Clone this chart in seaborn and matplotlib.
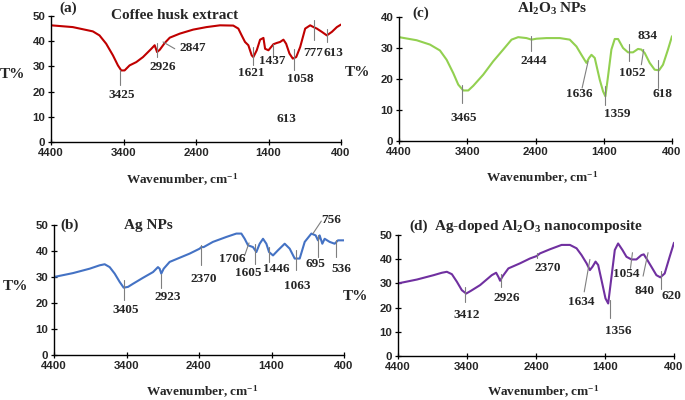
import matplotlib
matplotlib.use("Agg")
import matplotlib.pyplot as plt
import seaborn as sns
import pandas as pd

# ---------------- data (wavenumber cm-1, T%) ----------------
a_wn = [4400, 4100, 3823, 3731, 3639, 3546, 3477, 3431, 3385, 3316, 3224, 3131, 3016, 2970,
        2937, 2900, 2854, 2831, 2762, 2624, 2439, 2255, 2070, 1886, 1816, 1770, 1724, 1678,
        1632, 1609, 1562, 1516, 1470, 1447, 1401, 1355, 1332, 1286, 1240, 1194, 1157, 1111,
        1065, 1018, 963, 894, 825, 779, 733, 664, 595, 526, 457, 400]
a_t = [46.3, 45.6, 43.9, 42.3, 39.0, 34.4, 30.4, 28.4, 28.4, 30.4, 31.7, 33.7, 37.0, 38.4,
       35.7, 36.6, 38.4, 39.3, 41.4, 43.0, 44.6, 45.6, 46.3, 46.2, 45.0, 42.3, 39.7, 38.4,
       34.4, 33.7, 36.4, 40.6, 41.3, 37.0, 36.4, 38.0, 38.8, 39.3, 39.7, 40.6, 39.0, 35.1,
       33.1, 33.7, 37.7, 45.0, 46.3, 45.6, 45.0, 43.7, 42.3, 43.7, 45.6, 46.6]

b_wn = [4400, 4138, 3908, 3770, 3701, 3632, 3563, 3494, 3439, 3379, 3310, 3172, 3034, 2966,
        2943, 2920, 2887, 2805, 2667, 2529, 2391, 2368, 2336, 2208, 2023, 1885, 1816, 1770,
        1724, 1655, 1609, 1563, 1517, 1471, 1434, 1379, 1310, 1218, 1149, 1080, 1011, 942,
        850, 791, 759, 736, 699, 667, 598, 529, 483, 400]
b_t = [30.0, 31.5, 33.2, 34.5, 34.9, 33.8, 31.3, 28.1, 25.9, 26.2, 27.4, 29.7, 31.9, 33.8,
       33.2, 31.3, 33.2, 35.8, 37.4, 39.0, 40.9, 41.5, 41.5, 43.5, 45.4, 46.7, 46.7, 44.7,
       42.2, 41.5, 39.6, 42.8, 44.7, 42.8, 39.6, 38.3, 40.3, 42.8, 40.9, 37.1, 37.1, 43.5,
       46.7, 46.0, 44.1, 46.0, 42.8, 44.7, 43.5, 42.8, 44.1, 44.1]

c_wn = [4400, 4141, 3946, 3800, 3702, 3605, 3532, 3459, 3385, 3312, 3166, 3020, 2873, 2751,
        2654, 2532, 2459, 2385, 2239, 2044, 1898, 1800, 1727, 1654, 1615, 1580, 1532, 1459,
        1410, 1376, 1337, 1288, 1239, 1190, 1117, 1044, 971, 898, 849, 800, 727, 654, 590,
        532, 459, 400]
c_t = [33.5, 32.5, 31.1, 29.2, 26.2, 21.9, 18.2, 16.3, 16.3, 17.8, 21.4, 25.7, 29.5, 32.7,
       33.5, 33.2, 32.7, 33.0, 33.2, 33.2, 32.7, 30.5, 27.8, 25.2, 26.8, 27.8, 26.8, 19.8,
       16.0, 14.4, 20.9, 29.5, 32.9, 32.9, 30.0, 28.6, 28.6, 29.7, 29.5, 28.4, 25.2, 23.0,
       22.8, 24.6, 29.5, 33.8]

d_wn = [4400, 4125, 3884, 3764, 3692, 3619, 3547, 3475, 3412, 3345, 3210, 3041, 2978, 2945,
        2920, 2882, 2800, 2631, 2487, 2390, 2342, 2198, 2029, 1908, 1812, 1740, 1667, 1619,
        1581, 1537, 1499, 1451, 1393, 1354, 1306, 1258, 1210, 1147, 1089, 1017, 945, 872,
        838, 800, 728, 655, 598, 535, 463, 400]
d_t = [30.0, 31.6, 33.4, 34.4, 34.8, 33.8, 30.7, 27.2, 25.8, 26.9, 29.3, 33.4, 34.4, 32.7,
       31.1, 33.0, 36.2, 38.3, 40.3, 41.3, 42.4, 44.1, 45.9, 45.9, 44.5, 41.7, 38.3, 35.5,
       36.9, 39.0, 37.6, 31.4, 23.8, 21.7, 32.7, 43.8, 46.5, 43.8, 41.0, 39.9, 39.9, 41.7,
       42.0, 40.3, 36.9, 33.4, 32.5, 34.1, 41.0, 46.8]

x_ticks = [4400, 3400, 2400, 1400, 400]

# peak labels: (text, line x0, y0, x1, y1, text x, text y)
a_peaks = [("3425", 3445, 28.4, 3445, 22.5, 3431, 18.8),
           ("2926", 2937, 39.3, 2937, 33.7, 2855, 29.8),
           ("2847", 2855, 39.7, 2693, 37.0, 2439, 37.3),
           ("1621", 1609, 37.7, 1609, 30.4, 1632, 27.5),
           ("1437", 1332, 39.0, 1332, 33.7, 1355, 32.0),
           ("1058", 1055, 37.0, 1055, 28.4, 963, 24.9),
           ("777", 778, 48.3, 778, 40.3, 778, 35.4),
           ("613", 594, 45.0, 594, 39.7, 511, 35.4)]
a_extra = ("613", 1147, 9.3)

b_peaks = [("3405", 3434, 29.0, 3434, 21.0, 3411, 17.2),
           ("2923", 2920, 31.0, 2920, 25.9, 2837, 22.3),
           ("2370", 2368, 42.2, 2368, 34.5, 2331, 29.1),
           ("1706", 1770, 38.3, 1710, 43.1, 1940, 37.1),
           ("1605", 1632, 42.8, 1632, 35.1, 1724, 31.5),
           ("1446", 1434, 41.5, 1434, 35.8, 1333, 32.9),
           ("1063", 1057, 40.3, 1057, 32.6, 1044, 26.5),
           ("695", 759, 46.0, 759, 37.7, 791, 34.9),
           ("756", 828, 46.7, 713, 51.5, 575, 52.1),
           ("536", 515, 44.4, 515, 37.7, 432, 33.0)]

c_peaks = [("3465", 3483, 18.2, 3483, 12.3, 3449, 7.4),
           ("2444", 2459, 34.0, 2459, 28.9, 2424, 25.9),
           ("1636", 1629, 25.7, 1717, 17.1, 1761, 15.2),
           ("1359", 1385, 17.6, 1385, 11.7, 1200, 8.7),
           ("1052", 1034, 31.4, 1034, 25.7, 985, 21.9),
           ("834", 815, 29.5, 849, 24.6, 761, 33.8),
           ("618", 605, 26.2, 605, 17.1, 541, 15.2)]

d_peaks = [("3412", 3436, 28.6, 3436, 22.4, 3402, 16.9),
           ("2926", 2911, 33.8, 2911, 28.6, 2824, 23.8),
           ("2370", 2390, 42.4, 2390, 40.5, 2236, 36.2),
           ("1634", 1619, 39.9, 1701, 26.5, 1740, 22.4),
           ("1356", 1330, 23.1, 1330, 15.5, 1210, 10.2),
           ("1054", 1002, 42.7, 1031, 36.2, 1089, 33.8),
           ("840", 776, 42.7, 848, 33.0, 834, 26.9),
           ("620", 583, 35.2, 583, 27.5, 439, 24.7)]

# ---------------- style ----------------
sns.set_style("ticks")
plt.rcParams["font.family"] = ["Liberation Serif", "DejaVu Serif"]
plt.rcParams["mathtext.default"] = "regular"

W, H = 685, 400
fig = plt.figure(figsize=(W / 100, H / 100), dpi=100)

SERIF = ["Liberation Serif", "DejaVu Serif"]
SANS = ["Liberation Sans", "DejaVu Sans"]
PEAK_FS = 9.5
TITLE_FS = 11


def make_axes(l, r, t, b):
    return fig.add_axes([l / W, 1 - b / H, (r - l) / W, (b - t) / H])


def style_axes(ax, ymax, ystep):
    ax.set_xlim(4400, 400)
    ax.set_ylim(0, ymax)
    ax.set_xticks(x_ticks)
    ax.set_yticks(list(range(0, ymax + 1, ystep)))
    ax.set_xlabel("")
    ax.set_ylabel("")
    for s in ["top", "right"]:
        ax.spines[s].set_visible(False)
    for s in ["left", "bottom"]:
        ax.spines[s].set_color("black")
        ax.spines[s].set_linewidth(1.0)
    ax.tick_params(axis="both", direction="inout", length=4, width=0.9, color="black",
                   labelsize=8.2, pad=2)
    for lab in ax.get_xticklabels() + ax.get_yticklabels():
        lab.set_family(SANS)
        lab.set_fontweight("bold")
    ax.patch.set_alpha(0)


def draw_peaks(ax, peaks):
    for txt, x0, y0, x1, y1, tx, ty in peaks:
        ax.plot([x0, x1], [y0, y1], color="#7f7f7f", lw=0.8, clip_on=False)
        ax.text(tx, ty, txt, ha="center", va="center", fontsize=PEAK_FS, fontweight="bold",
                family=SERIF, clip_on=False)


def draw_curve(ax, wn, t, color):
    df = pd.DataFrame({"wn": wn, "t": t})
    sns.lineplot(data=df, x="wn", y="t", ax=ax, color=color, lw=1.5, sort=False,
                 estimator=None)


def label(ax, x, y, s, fs):
    ax.text(x, y, s, ha="center", va="center", fontsize=fs, fontweight="bold",
            family=SERIF, clip_on=False)


# (a)
ax_a = make_axes(51, 341, 16, 142)
draw_curve(ax_a, a_wn, a_t, "#C00000")
style_axes(ax_a, 50, 10)
draw_peaks(ax_a, a_peaks)
label(ax_a, a_extra[1], a_extra[2], a_extra[0], PEAK_FS)
label(ax_a, 2693, 50.3, "Coffee husk extract", TITLE_FS)
label(ax_a, 4169, 52.9, "(a)", TITLE_FS)

# (c)
ax_c = make_axes(399, 672, 17, 141)
draw_curve(ax_c, c_wn, c_t, "#92D050")
style_axes(ax_c, 40, 10)
draw_peaks(ax_c, c_peaks)
label(ax_c, 2151, 42.6, "Al$_2$O$_3$ NPs", TITLE_FS)
label(ax_c, 4078, 41.1, "(c)", TITLE_FS)

# (b)
ax_b = make_axes(54, 344, 225, 355)
draw_curve(ax_b, b_wn, b_t, "#4472C4")
style_axes(ax_b, 50, 10)
draw_peaks(ax_b, b_peaks)
label(ax_b, 3103, 49.9, "Ag NPs", TITLE_FS)
label(ax_b, 4184, 49.9, "(b)", TITLE_FS)

# (d)
ax_d = make_axes(398, 674, 235, 356)
draw_curve(ax_d, d_wn, d_t, "#7030A0")
style_axes(ax_d, 50, 10)
draw_peaks(ax_d, d_peaks)
label(ax_d, 2366, 53.7, "Ag-doped Al$_2$O$_3$ nanocomposite", TITLE_FS)
label(ax_d, 4101, 53.7, "(d)", TITLE_FS)


# axis titles
def ftext(x, y, s, size):
    fig.text(x / W, 1 - y / H, s, ha="center", va="center", fontsize=size,
             fontweight="bold", family=SERIF)


for x, y in [(12, 75), (357, 73), (15, 287), (355, 297)]:
    ftext(x, y, "T%", 11)
for x, y in [(182, 180), (542, 178), (202, 392), (543, 392)]:
    ftext(x, y, "Wavenumber, cm$^{-1}$", 9.5)

fig.savefig("out.png", dpi=100, facecolor="white")
